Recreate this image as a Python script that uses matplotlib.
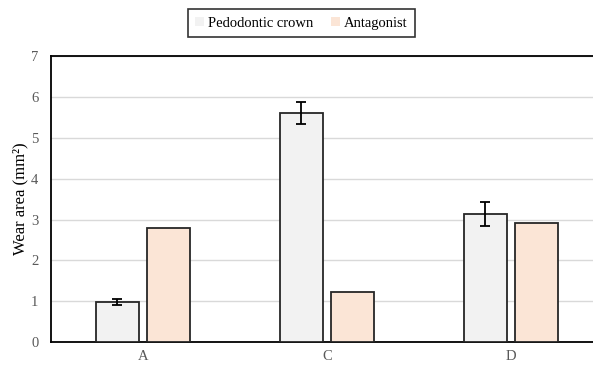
import matplotlib.pyplot as plt
import numpy as np

plt.rcParams['font.family'] = ['Liberation Serif', 'DejaVu Serif']

# datos
groups = ["A", "C", "D"]
pedo = [0.98, 5.60, 3.14]
pedo_err = [0.08, 0.27, 0.29]
antag = [2.80, 1.22, 2.91]

fig = plt.figure(figsize=(5.93, 3.67), dpi=100)
ax = fig.add_axes([0.086, 0.068, 0.931, 0.779])

x = np.arange(len(groups))
w = 0.23
off = 0.139
ax.bar(x - off, pedo, w, yerr=pedo_err, color="#f2f2f2", edgecolor="#262626",
       linewidth=1.3, capsize=3.5, error_kw=dict(elinewidth=1.3, capthick=1.3, ecolor="black"),
       label="Pedodontic crown", zorder=3)
ax.bar(x + off, antag, w, color="#fbe5d6", edgecolor="#262626", linewidth=1.3,
       label="Antagonist", zorder=3)

ax.set_xlim(-0.5, 2.5)
ax.set_ylim(0, 7)
ax.set_xticks(x)
ax.set_xticklabels(groups)
ax.set_yticks(range(0, 8))
ax.grid(axis="y", color="#d9d9d9", linewidth=1, zorder=0)
ax.tick_params(length=0, labelsize=10.5, colors="#595959", pad=6)
ax.tick_params(axis="y", pad=9)
for s in ["left", "bottom", "top"]:
    ax.spines[s].set_color("black")
    ax.spines[s].set_linewidth(1.3)
ax.spines["right"].set_visible(False)
ax.set_ylabel("Wear area (mm²)", fontsize=12, color="black", labelpad=2)

leg = fig.legend(loc="center", bbox_to_anchor=(0.508, 0.937), ncol=2, fontsize=10.5,
                 frameon=True, fancybox=False, edgecolor="black", handlelength=0.6,
                 handleheight=0.6, handletextpad=0.3, columnspacing=1.2,
                 borderpad=0.5)
leg.get_frame().set_linewidth(1.2)
for h in leg.legend_handles:
    h.set_edgecolor("none")

fig.savefig("out.png", dpi=100)
